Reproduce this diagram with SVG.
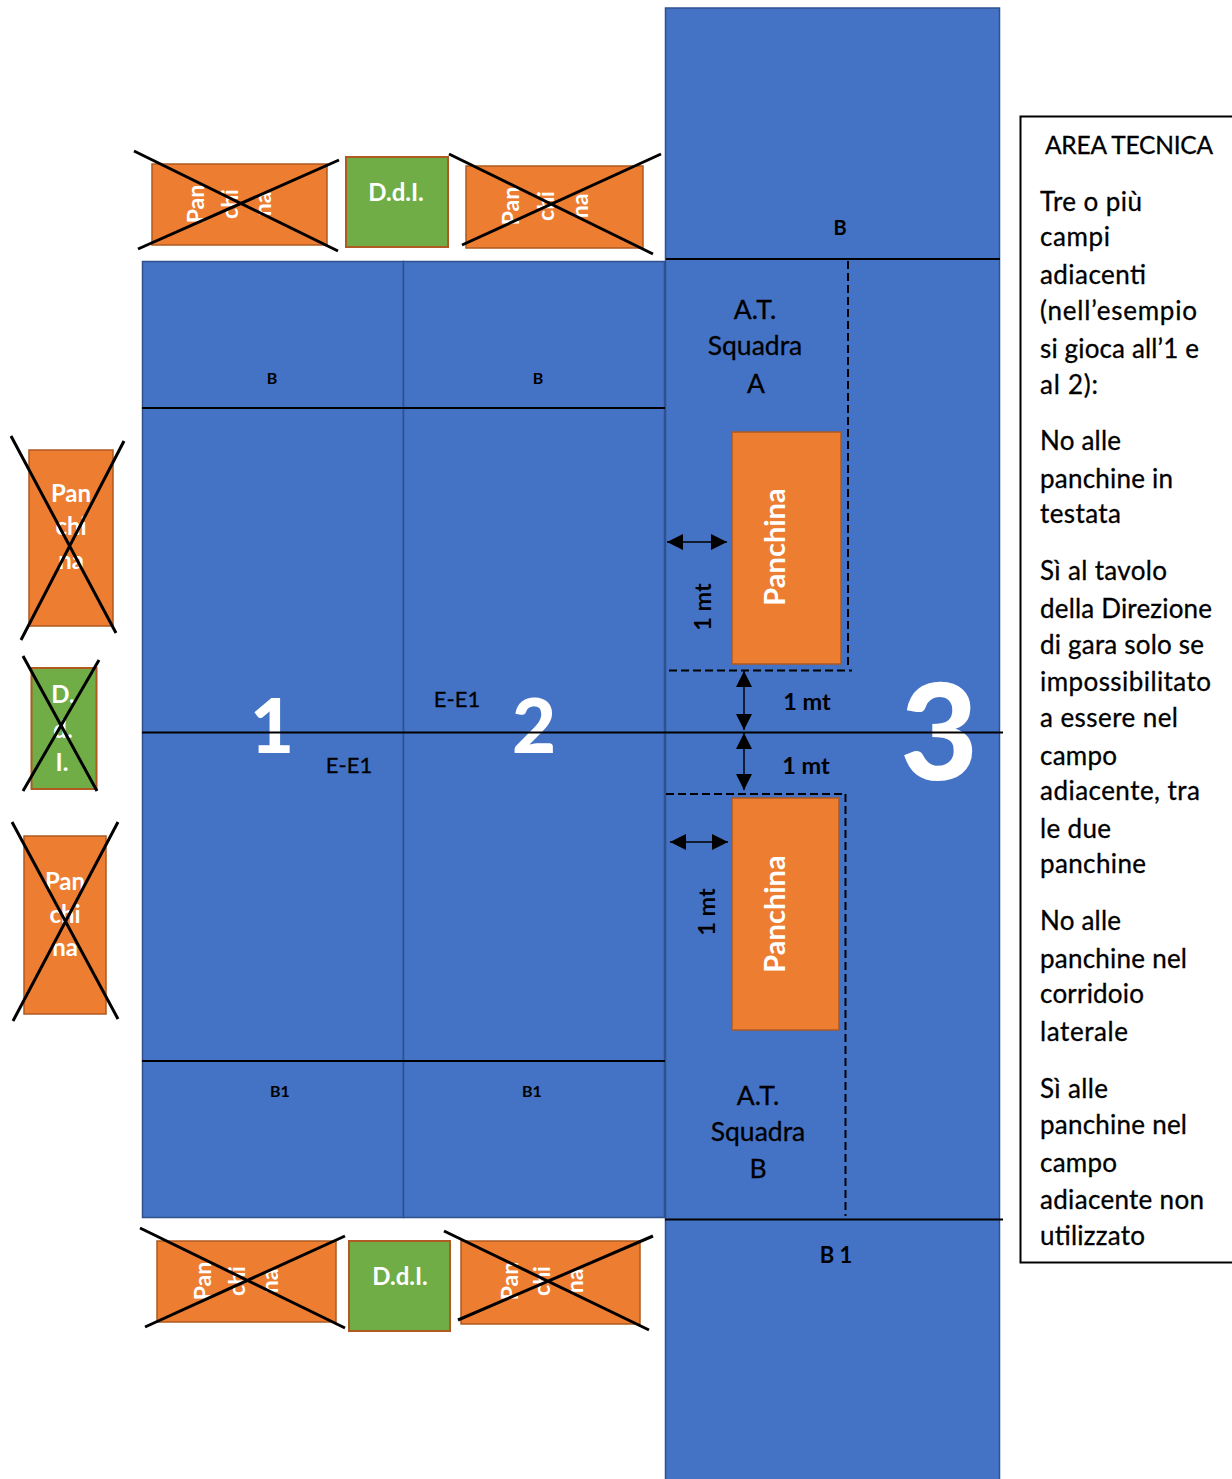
<svg xmlns="http://www.w3.org/2000/svg" width="1232" height="1479" viewBox="0 0 1232 1479">
<defs>
<marker id="ah" viewBox="0 0 10 10" refX="10" refY="5" markerWidth="16" markerHeight="16" markerUnits="userSpaceOnUse" orient="auto-start-reverse"><path d="M0 0L10 5L0 10z" fill="#000"/></marker>
</defs>
<style>
text{font-family:Lato,"Liberation Sans",sans-serif}
.f{fill:#4472C4;stroke:#2F528F;stroke-width:1.5}
.o{fill:#ED7D31;stroke:#AE5A21;stroke-width:1.5}
.g{fill:#70AD47;stroke:#AE5A21;stroke-width:2}
.l{stroke:#000;stroke-width:2;fill:none}
.a{stroke:#000;stroke-width:1.5;fill:none}
.x{stroke:#000;stroke-width:3;fill:none}
.d{stroke:#000;stroke-width:2;stroke-dasharray:8 4;fill:none}
.w{fill:#fff;font-weight:700;text-anchor:middle}
.h{fill:#fff;font-weight:900;text-anchor:middle}
.s{fill:#000;font-weight:700;font-size:16px;text-anchor:middle}
.m{fill:#000;font-size:22px;text-anchor:middle;stroke:#000;stroke-width:.3}
.q{fill:#000;font-size:26.500px;text-anchor:middle;stroke:#000;stroke-width:.3}
.b{fill:#000;font-size:23.500px;font-weight:700;text-anchor:middle}
.t{fill:#000;font-size:26px;stroke:#000;stroke-width:.3}
.p{fill:#fff;font-weight:700;font-size:23px;text-anchor:middle}
.e{fill:#fff;font-weight:700;font-size:24px;text-anchor:middle}
</style>
<g id="campo3"><rect class="f" x="665.500" y="8" width="334" height="1472"/>
<text class="s" x="840" y="235" style="font-size:20px">B</text><text class="s" x="836" y="1263" style="font-size:22px">B 1</text>
<text class="q" x="755" y="319">A.T.</text><text class="q" x="755" y="355">Squadra</text><text class="q" x="756" y="393">A</text>
<text class="q" x="758" y="1105">A.T.</text><text class="q" x="758" y="1141">Squadra</text><text class="q" x="758" y="1178">B</text>
<text class="h" x="939" y="780" style="font-size:134px">3</text></g>
<g id="campo1"><rect class="f" x="142.500" y="261.500" width="261" height="956"/>
<text class="s" x="272" y="384">B</text><text class="s" x="280" y="1097">B1</text>
<text class="h" x="272" y="753" style="font-size:76px">1</text><text class="m" x="349" y="773">E-E1</text></g>
<g id="campo2"><rect class="f" x="403.500" y="261.500" width="261" height="956"/>
<text class="s" x="538" y="384">B</text><text class="s" x="532" y="1097">B1</text>
<text class="h" x="534" y="753" style="font-size:76px">2</text><text class="m" x="457" y="707">E-E1</text></g>
<g id="panchina-a"><rect class="o" x="732" y="432" width="109" height="232"/><text class="w" transform="translate(785 547) rotate(-90)" style="font-size:29px">Panchina</text></g>
<g id="panchina-b"><rect class="o" x="732" y="798" width="107" height="232"/><text class="w" transform="translate(785 914) rotate(-90)" style="font-size:29px">Panchina</text></g>
<g id="ddl-top"><rect class="g" x="346" y="157" width="102" height="90"/><text class="e" x="396" y="201">D.d.I.</text></g>
<g id="ddl-bottom"><rect class="g" x="349" y="1241" width="101" height="90"/><text class="e" x="400" y="1285">D.d.I.</text></g>
<g id="ddl-left"><rect class="g" x="31.500" y="668" width="65" height="121"/><text class="e" x="63" y="703">D.</text><text class="e" x="63" y="738">d.</text><text class="e" x="62" y="771">I.</text></g>
<g id="panchina-top-1"><rect class="o" x="152" y="164" width="175" height="81"/><text class="p" transform="translate(204 204) rotate(-90)">Pan</text><text class="p" transform="translate(238 204) rotate(-90)">chi</text><text class="p" transform="translate(271 204) rotate(-90)">na</text></g>
<g id="panchina-top-2"><rect class="o" x="466" y="166" width="177" height="82"/><text class="p" transform="translate(519 206) rotate(-90)">Pan</text><text class="p" transform="translate(554 206) rotate(-90)">chi</text><text class="p" transform="translate(588 206) rotate(-90)">na</text></g>
<g id="panchina-bottom-1"><rect class="o" x="157" y="1241" width="179" height="81"/><text class="p" transform="translate(211 1281) rotate(-90)">Pan</text><text class="p" transform="translate(245 1281) rotate(-90)">chi</text><text class="p" transform="translate(278 1281) rotate(-90)">na</text></g>
<g id="panchina-bottom-2"><rect class="o" x="461" y="1241" width="179" height="83"/><text class="p" transform="translate(518 1281) rotate(-90)">Pan</text><text class="p" transform="translate(550 1281) rotate(-90)">chi</text><text class="p" transform="translate(583 1281) rotate(-90)">na</text></g>
<g id="panchina-left-1"><rect class="o" x="29" y="450" width="84" height="176"/><text class="e" x="71" y="502">Pan</text><text class="e" x="71" y="535">chi</text><text class="e" x="71" y="569">na</text></g>
<g id="panchina-left-2"><rect class="o" x="24" y="836" width="82" height="178"/><text class="e" x="65" y="890">Pan</text><text class="e" x="65" y="923">chi</text><text class="e" x="65" y="956">na</text></g>
<g id="connectors">
<path class="l" d="M142 408H665M142 1061H665M666 259H1000M142 732.500H1003M665 1219.500H1003"/>
<path class="d" d="M848 261V669M669 670.500H852M666 794H846M845.500 794V1216"/>
<path class="a" marker-start="url(#ah)" marker-end="url(#ah)" d="M667 542H727"/>
<path class="a" marker-start="url(#ah)" marker-end="url(#ah)" d="M670 842H728"/>
<path class="a" marker-start="url(#ah)" marker-end="url(#ah)" d="M744 671V730"/>
<path class="a" marker-start="url(#ah)" marker-end="url(#ah)" d="M744 733V790"/>
<path class="x" d="M134 151L338 251M138 249L339 160M449 154L653 254M462 245L661 154M140 1228L345 1328M145 1327L345 1236M444 1231L649 1330M458 1320L653 1236M11 436L116 633M21 640L124 441M23 656L97 791M23 791L99 660M12 822L118 1019M13 1021L118 822"/>
</g>
<g id="misure">
<text class="b" transform="translate(711 607) rotate(-90)">1 mt</text><text class="b" transform="translate(715 912) rotate(-90)">1 mt</text>
<text class="b" x="807" y="710">1 mt</text><text class="b" x="806" y="774">1 mt</text></g>
<g id="area-tecnica"><rect x="1020.500" y="116.500" width="214" height="1146" fill="#fff" stroke="#000" stroke-width="2"/>
<text class="t" x="1045" y="154" textLength="168" style="font-size:24.500px">AREA TECNICA</text>
<text class="t" x="1040" y="211" textLength="102">Tre o più</text><text class="t" x="1040" y="246" textLength="70">campi</text><text class="t" x="1040" y="284" textLength="106">adiacenti</text><text class="t" x="1040" y="320" textLength="157">(nell’esempio</text><text class="t" x="1040" y="358" textLength="159">si gioca all’1 e</text><text class="t" x="1040" y="394" textLength="58">al 2):</text>
<text class="t" x="1040" y="450" textLength="81">No alle</text><text class="t" x="1040" y="488" textLength="133">panchine in</text><text class="t" x="1040" y="523" textLength="81">testata</text>
<text class="t" x="1040" y="580" textLength="127">Sì al tavolo</text><text class="t" x="1040" y="618" textLength="172">della Direzione</text><text class="t" x="1040" y="654" textLength="164">di gara solo se</text><text class="t" x="1040" y="691" textLength="171">impossibilitato</text><text class="t" x="1040" y="727" textLength="138">a essere nel</text><text class="t" x="1040" y="765" textLength="77">campo</text><text class="t" x="1040" y="800" textLength="160">adiacente, tra</text><text class="t" x="1040" y="838" textLength="71">le due</text><text class="t" x="1040" y="873" textLength="106">panchine</text>
<text class="t" x="1040" y="930" textLength="81">No alle</text><text class="t" x="1040" y="968" textLength="147">panchine nel</text><text class="t" x="1040" y="1003" textLength="104">corridoio</text><text class="t" x="1040" y="1041" textLength="88">laterale</text>
<text class="t" x="1040" y="1098" textLength="68">Sì alle</text><text class="t" x="1040" y="1134" textLength="147">panchine nel</text><text class="t" x="1040" y="1172" textLength="77">campo</text><text class="t" x="1040" y="1209" textLength="164">adiacente non</text><text class="t" x="1040" y="1245" textLength="105">utilizzato</text></g>
</svg>
